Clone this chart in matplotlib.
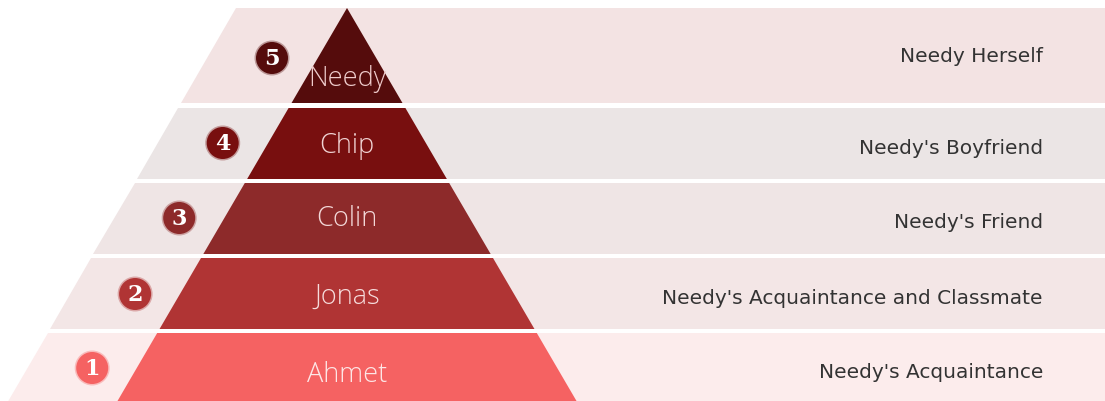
import matplotlib
matplotlib.use("Agg")
import matplotlib.pyplot as plt
from matplotlib.patches import Polygon, Circle

# ---- data (tier 1 = bottom, tier 5 = top) ----
levels = [1, 2, 3, 4, 5]
names = ["Ahmet", "Jonas", "Colin", "Chip", "Needy"]
roles = ["Needy's Acquaintance", "Needy's Acquaintance and Classmate",
         "Needy's Friend", "Needy's Boyfriend", "Needy Herself"]
tier_colors = ["#f56262", "#b03434", "#8d2a2a", "#780f0f", "#550c0c"]
band_colors = ["#fcecec", "#f3e6e6", "#efe5e5", "#ebe5e5", "#f3e3e3"]
name_colors = ["#fde6e6", "#f6dcdc", "#f3d8d8", "#f1d4d4", "#efcccc"]

# ---- geometry (pixel space) ----
W, H = 1105, 401
tops = [333, 258, 183, 108, 8]
bots = [410, 329, 254, 179, 103]
apex_x, apex_y, slope = 347, 8, 0.584
left_x0, left_slope = 236, 0.58
right_x = 1105
name_y = [375, 297, 219, 146, 79]
badge_y = [368, 294, 218, 143, 58]
role_y = [373, 298, 222, 148, 57]
role_x = 1043


def x_left(y):
    return left_x0 - left_slope * (y - apex_y)


def half_w(y):
    return slope * (y - apex_y)


fig = plt.figure(figsize=(W / 100, H / 100), dpi=100)
ax = fig.add_axes([0, 0, 1, 1])
ax.set_xlim(0, W)
ax.set_ylim(H, 0)
ax.axis("off")

for i, lvl in enumerate(levels):
    t, b = tops[i], bots[i]
    bg = Polygon([(x_left(t), t), (right_x, t), (right_x, b), (x_left(b), b)],
                 closed=True, facecolor=band_colors[i], edgecolor="none", zorder=1)
    ax.add_patch(bg)
    tr = Polygon([(apex_x - half_w(t), t), (apex_x + half_w(t), t),
                  (apex_x + half_w(b), b), (apex_x - half_w(b), b)],
                 closed=True, facecolor=tier_colors[i], edgecolor="none", zorder=2)
    ax.add_patch(tr)
    ax.text(apex_x, name_y[i], names[i], ha="center", va="center",
            fontsize=19.5, family="Open Sans", fontweight="light",
            color=name_colors[i], zorder=3)
    ax.text(role_x, role_y[i], roles[i], ha="right", va="center",
            fontsize=14.5, family="DejaVu Sans", color="#333333", zorder=3)
    by = badge_y[i]
    bx = x_left(by) + 65
    ax.add_patch(Circle((bx, by), 17.5, facecolor=tier_colors[i],
                        edgecolor="none", alpha=0.35, zorder=3))
    ax.add_patch(Circle((bx, by), 16, facecolor=tier_colors[i],
                        edgecolor="none", zorder=4))
    ax.text(bx, by + 1, str(lvl), ha="center", va="center", fontsize=16,
            family="DejaVu Serif", fontweight="heavy", color="white", zorder=5)

fig.savefig("out.png", dpi=100)
